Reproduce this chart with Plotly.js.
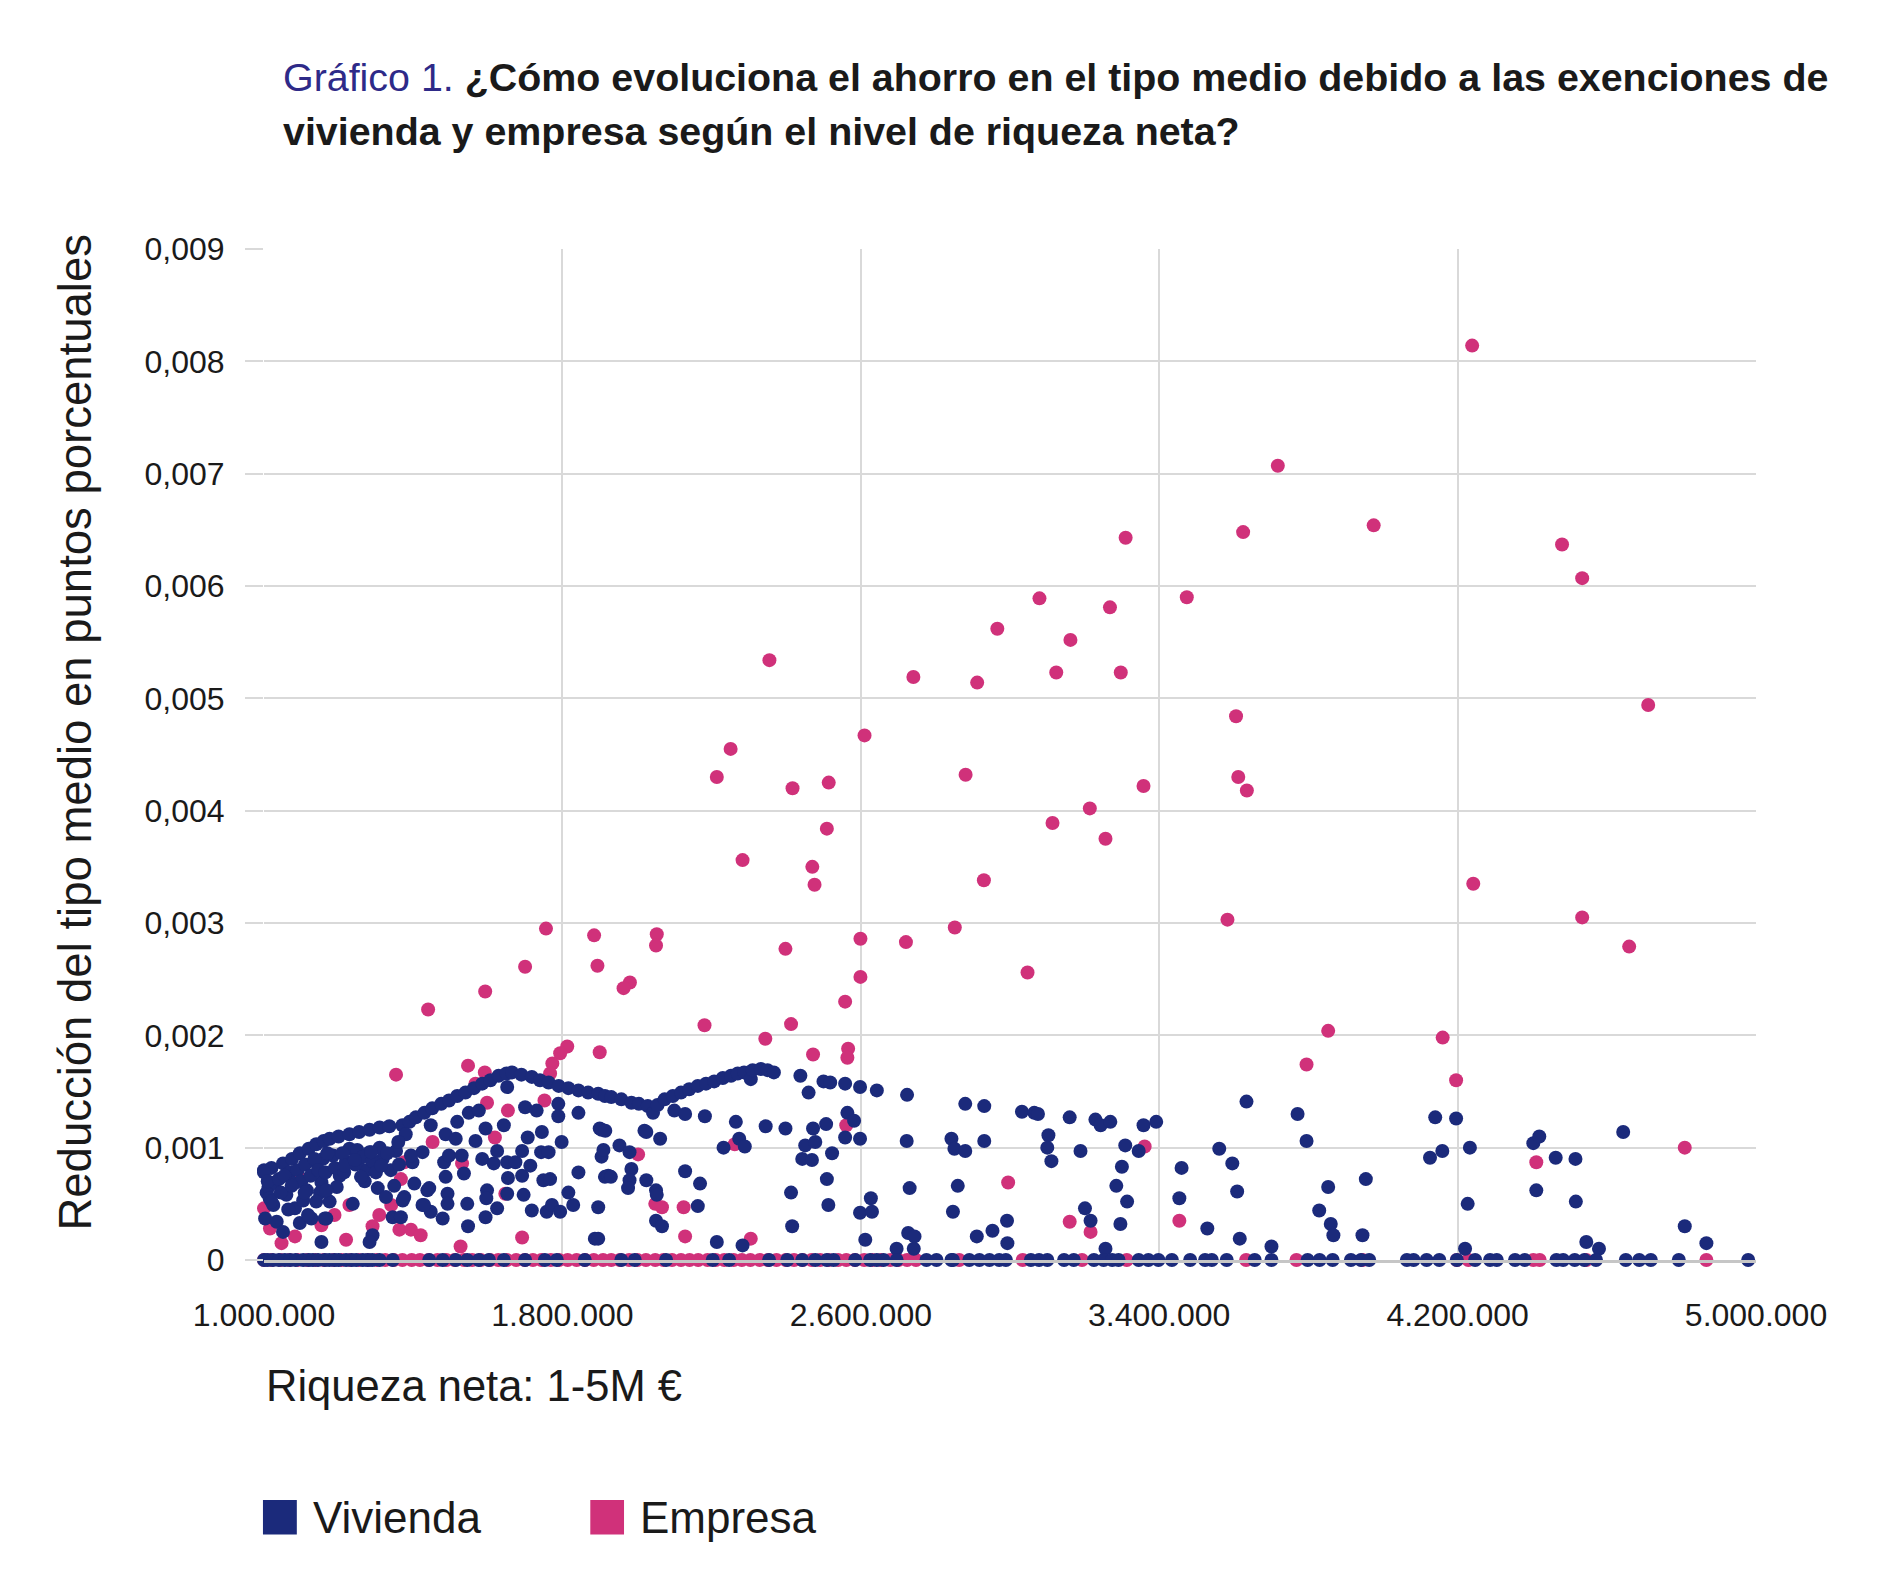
<!DOCTYPE html>
<html>
<head>
<meta charset="utf-8">
<script src="https://cdn.plot.ly/plotly-3.0.1.min.js"></script>
<style>
  body { margin: 0; background: #fff; }
  #chart { width: 1880px; height: 1596px; }
</style>
</head>
<body>
<div id="chart"></div>
<script>
// riqueza neta en miles de euros, reduccion del tipo medio en puntos porcentuales
var empresa = [
    // parte alta
    [2355,0.00534],[2741,0.00519],[2912,0.00514],[2610,0.00467],[2251,0.00455],[2214,0.0043],[2417,0.0042],
    [2514,0.00425],[2881,0.00432],[2509,0.00384],[2283,0.00356],[2470,0.0035],[2476,0.00334],[2930,0.00338],
    [1756,0.00295],[1885,0.00289],[2053,0.0029],[2051,0.0028],[2852,0.00296],[2599,0.00286],[2721,0.00283],
    [2398,0.00277],[1700,0.00261],[1894,0.00262],[2599,0.00252],[1981,0.00247],[1964,0.00242],[1593,0.00239],
    [2558,0.0023],[1440,0.00223],[2181,0.00209],[2413,0.0021],[2344,0.00197],[1813,0.0019],[1900,0.00185],
    [2566,0.00188],[2472,0.00183],
    [4239,0.00814],[3718,0.00707],[3975,0.00654],[3625,0.00648],[3310,0.00643],[4480,0.00637],[4534,0.00607],
    [3474,0.0059],[3079,0.00589],[3268,0.00581],[2966,0.00562],[3162,0.00552],[3124,0.00523],[3297,0.00523],
    [4711,0.00494],[3606,0.00484],[3358,0.00422],[3612,0.0043],[3635,0.00418],[3214,0.00402],[3114,0.00389],
    [3256,0.00375],[4242,0.00335],[4534,0.00305],[3583,0.00303],[4660,0.00279],[3047,0.00256],[3853,0.00204],
    [4160,0.00198],[3795,0.00174],[4196,0.0016],
    // zona densa
    [1794,0.00184],[1773,0.00175],[1767,0.00166],[1547,0.00173],[1592,0.00167],[1567,0.00157],[1598,0.0014],
    [1654,0.00133],[1752,0.00142],[1452,0.00105],[1619,0.00109],[1376,0.00087],[1531,0.00086],[1100,0.00072],
    [1367,0.00072],[1647,0.00059],[1229,0.00049],[1341,0.00049],[1000,0.00046],[1189,0.0004],[1309,0.0004],
    [1016,0.00028],[1154,0.00031],[1291,0.0003],[1363,0.00027],[1394,0.00027],[1420,0.00022],[1083,0.00021],
    [1220,0.00018],[1692,0.0002],[1047,0.00015],[1527,0.00012],[1354,0.00165],[2564,0.0018],[2561,0.0012],
    [2003,0.00094],[2262,0.00103],[2049,0.0005],[2067,0.00047],[2125,0.00047],[2129,0.00021],[2305,0.00019],
    [2995,0.00069],[3160,0.00034],[3216,0.00025],[3454,0.00035],[3361,0.00101],[4411,0.00087],[4809,0.001],
    // en cero
    [1000,0],[1020,0],[1045,0],[1068,0],[1090,0],[1116,0],[1138,0],[1160,0],[1186,0],[1208,0],[1231,0],
    [1255,0],[1279,0],[1302,0],[1325,0],[1348,0],[1371,0],[1396,0],[1418,0],[1441,0],[1465,0],[1489,0],
    [1511,0],[1536,0],[1558,0],[1581,0],[1606,0],[1628,0],[1651,0],[1676,0],[1699,0],[1721,0],[1744,0],
    [1769,0],[1791,0],[1814,0],[1838,0],[1861,0],[1884,0],[1909,0],[1931,0],[1954,0],[1979,0],[2001,0],
    [2024,0],[2049,0],[2071,0],[2094,0],[2118,0],[2141,0],[2164,0],[2189,0],[2211,0],[2234,0],[2259,0],
    [2281,0],[2304,0],[2329,0],[2351,0],[2374,0],[2399,0],[2421,0],[2444,0],[2468,0],[2491,0],[2514,0],
    [2539,0],[2561,0],[2584,0],[2609,0],[2631,0],[2654,0],[2679,0],[2701,0],[2724,0],[2748,0],
    [2864,0],[3034,0],[3193,0],[3313,0],[3633,0],[3768,0],[3945,0],[4198,0],[4229,0],[4403,0],[4420,0],
    [4545,0],[4867,0]
];

var vivienda = [
    // frontera superior
    [1000,0.0008],[1020,0.00082],[1051,0.00086],[1075,0.0009],[1096,0.00095],[1120,0.00099],[1140,0.00103],
    [1160,0.00106],[1176,0.00108],[1200,0.0011],[1229,0.00112],[1255,0.00114],[1283,0.00116],[1310,0.00118],
    [1336,0.00119],[1371,0.0012],[1390,0.00123],[1407,0.00127],[1430,0.00131],[1451,0.00135],[1475,0.00139],
    [1496,0.00142],[1518,0.00146],[1540,0.00149],[1563,0.00153],[1585,0.00157],[1607,0.0016],[1629,0.00164],
    [1650,0.00166],[1665,0.00167],[1690,0.00165],[1718,0.00163],[1740,0.0016],[1763,0.00158],[1790,0.00155],
    [1816,0.00153],[1843,0.00151],[1869,0.00149],[1896,0.00148],[1914,0.00146],[1931,0.00145],[1958,0.00143],
    [1985,0.0014],[2005,0.00139],[2029,0.00137],[2043,0.00131],[2055,0.00138],[2074,0.00143],[2096,0.00146],
    [2118,0.00149],[2140,0.00152],[2163,0.00155],[2185,0.00157],[2207,0.00159],[2230,0.00162],[2252,0.00164],
    [2270,0.00166],[2287,0.00167],[2305,0.00161],[2310,0.00169],[2332,0.0017],[2350,0.00169],[2367,0.00167],
    [2438,0.00164],[2460,0.00149],[2500,0.00159],[2518,0.00158],[2558,0.00157],[2598,0.00154],[2643,0.00151],
    [2724,0.00147],
    // 1,0 - 1,9 M
    [1000,0.00078],[1007,0.0006],[1012,0.00065],[1029,0.00069],[1025,0.00049],[1003,0.00037],[1034,0.00034],
    [1051,0.00025],[1060,0.00058],[1069,0.00078],[1083,0.00046],[1105,0.00053],[1096,0.00033],[1127,0.00037],
    [1140,0.00087],[1154,0.00069],[1167,0.00037],[1176,0.00052],[1158,0.0009],[1185,0.00093],[1203,0.00075],
    [1220,0.00087],[1238,0.0005],[1229,0.00099],[1256,0.0009],[1274,0.0008],[1283,0.00096],[1305,0.00064],
    [1291,0.00022],[1283,0.00016],[1154,0.00016],[1318,0.0009],[1327,0.00056],[1345,0.00038],[1367,0.00038],
    [1354,0.00097],[1380,0.00112],[1376,0.00056],[1398,0.00087],[1403,0.00068],[1425,0.00096],[1425,0.00049],
    [1447,0.00043],[1443,0.00064],[1447,0.0012],[1479,0.00037],[1487,0.00074],[1483,0.00087],[1487,0.00112],
    [1496,0.00093],[1492,0.00059],[1492,0.0005],[1518,0.00123],[1514,0.00108],[1536,0.00077],[1530,0.00093],
    [1545,0.0005],[1549,0.00131],[1547,0.0003],[1576,0.00133],[1567,0.00106],[1594,0.00117],[1585,0.0009],
    [1594,0.00038],[1598,0.00062],[1596,0.00055],[1625,0.00046],[1616,0.00086],[1625,0.00097],[1643,0.0012],
    [1652,0.00154],[1652,0.00087],[1654,0.00073],[1652,0.00059],[1674,0.00087],[1692,0.00075],[1696,0.00058],
    [1700,0.00136],[1707,0.00109],[1692,0.00097],[1714,0.00084],[1718,0.00044],[1731,0.00133],[1745,0.00114],
    [1743,0.00096],[1749,0.00071],[1758,0.00043],[1763,0.00096],[1767,0.00072],[1772,0.00049],[1789,0.00139],
    [1789,0.00128],[1798,0.00105],[1794,0.00043],[1816,0.0006],[1829,0.00049],[1843,0.00131],[1843,0.00078],
    [1887,0.00019],[1896,0.00047],[1900,0.00117],[1905,0.00092],[1914,0.00074],
    [1010,0.0007],[1015,0.00055],[1040,0.00072],[1045,0.0006],[1055,0.00075],[1065,0.00045],[1080,0.00068],
    [1090,0.0008],[1100,0.0007],[1110,0.00085],[1115,0.00062],[1125,0.00075],[1135,0.0009],[1145,0.0008],
    [1150,0.0006],[1165,0.00078],[1170,0.00095],[1190,0.00082],[1195,0.00065],[1210,0.00095],[1215,0.00078],
    [1245,0.00085],[1250,0.00098],[1265,0.00092],[1270,0.0007],[1290,0.00088],[1300,0.00078],[1310,0.001],
    [1330,0.00095],[1340,0.0008],[1360,0.00105],[1362,0.00085],[1020,0.00052],[1074,0.00066],[1109,0.0006],
    [1118,0.0004],[1140,0.00052],[1163,0.00037],[1167,0.00062],[1216,0.00084],[1243,0.00089],[1260,0.00074],
    [1287,0.00096],[1314,0.00084],[1349,0.00066],[1372,0.00053],[1394,0.00093],[1438,0.00062],[1429,0.00049],
    // 1,9 - 2,85 M
    [1905,0.00116],[1915,0.00115],[2020,0.00115],[2025,0.00114],[2062,0.00108],[2100,0.00133],[2129,0.0013],
    [2182,0.00128],[2265,0.00123],[2345,0.00119],[2398,0.00117],[2472,0.00117],[2507,0.00121],[2564,0.00131],
    [2582,0.00124],[2558,0.00109],[2598,0.00108],[2723,0.00106],[2232,0.001],[2274,0.00108],[2289,0.00101],
    [2451,0.00102],[2478,0.00105],[2443,0.0009],[2469,0.00089],[2523,0.00095],[1953,0.00102],[1980,0.00096],
    [1910,0.00098],[1923,0.00075],[1930,0.00074],[1985,0.00081],[1980,0.00071],[1976,0.00064],[2025,0.00071],
    [2051,0.00062],[2053,0.00058],[2129,0.00079],[2169,0.00068],[2163,0.00048],[2051,0.00035],[2067,0.0003],
    [2413,0.0006],[2416,0.0003],[2509,0.00072],[2513,0.00049],[2627,0.00055],[2598,0.00042],[2630,0.00043],
    [2612,0.00018],[2731,0.00064],[2727,0.00024],[2744,0.00021],[2742,0.0001],[2214,0.00016],[2283,0.00013],
    [2696,0.0001],[1896,0.00019],
    // 2,85 - 5 M
    [3701,0.00012],[3256,0.0001],[2880,0.00139],[2931,0.00137],[2843,0.00108],[2851,0.00099],[2880,0.00097],
    [2931,0.00106],[2860,0.00066],[2847,0.00043],[2911,0.00021],[2953,0.00026],[2992,0.00035],[2993,0.00015],
    [3032,0.00132],[3065,0.00131],[3075,0.0013],[3103,0.00111],[3100,0.001],[3111,0.00088],[3160,0.00127],
    [3189,0.00097],[3201,0.00046],[3216,0.00035],[3229,0.00125],[3243,0.0012],[3269,0.00123],[3309,0.00102],
    [3300,0.00083],[3285,0.00066],[3314,0.00052],[3296,0.00032],[3345,0.00097],[3358,0.0012],[3392,0.00123],
    [3460,0.00082],[3454,0.00055],[3529,0.00028],[3561,0.00099],[3596,0.00086],[3609,0.00061],[3616,0.00019],
    [3634,0.00141],[3771,0.0013],[3795,0.00106],[3853,0.00065],[3829,0.00044],[3860,0.00032],[3867,0.00022],
    [3945,0.00022],[3954,0.00072],[4220,0.0001],[4140,0.00127],[4196,0.00126],[4126,0.00091],[4159,0.00097],
    [4233,0.001],[4227,0.0005],[4403,0.00104],[4419,0.0011],[4463,0.00091],[4516,0.0009],[4411,0.00062],
    [4517,0.00052],[4545,0.00016],[4579,0.0001],[4644,0.00114],[4809,0.0003],[4867,0.00015],
    // en cero
    [1000,0],[1010,0],[1024,0],[1040,0],[1056,0],[1070,0],[1085,0],[1105,0],[1120,0],[1131,0],[1145,0],
    [1163,0],[1175,0],[1189,0],[1200,0],[1220,0],[1235,0],[1247,0],[1265,0],[1278,0],[1290,0],[1310,0],
    [1345,0],[1443,0],[1479,0],[1514,0],[1545,0],[1576,0],[1603,0],[1643,0],[1700,0],[1753,0],[1785,0],
    [1860,0],[1958,0],[1994,0],[2078,0],[2203,0],[2247,0],[2354,0],[2403,0],[2443,0],[2478,0],[2509,0],
    [2527,0],[2585,0],[2625,0],[2643,0],[2661,0],[2696,0],[2776,0],[2803,0],[2843,0],[2847,0],[2891,0],
    [2918,0],[2945,0],[2971,0],[2989,0],[3056,0],[3078,0],[3100,0],[3145,0],[3171,0],[3225,0],[3251,0],
    [3274,0],[3291,0],[3345,0],[3371,0],[3398,0],[3434,0],[3483,0],[3523,0],[3541,0],[3581,0],[3656,0],
    [3701,0],[3798,0],[3830,0],[3865,0],[3914,0],[3941,0],[3963,0],[4064,0],[4082,0],[4117,0],[4151,0],
    [4198,0],[4247,0],[4287,0],[4305,0],[4354,0],[4380,0],[4465,0],[4483,0],[4514,0],[4540,0],[4571,0],
    [4651,0],[4687,0],[4718,0],[4793,0],[4979,0]
];

var xTickVals = [1000, 1800, 2600, 3400, 4200, 5000];
var xTickText = ['1.000.000', '1.800.000', '2.600.000', '3.400.000', '4.200.000', '5.000.000'];
var yTickVals = [0, 0.001, 0.002, 0.003, 0.004, 0.005, 0.006, 0.007, 0.008, 0.009];
var yTickText = ['0', '0,001', '0,002', '0,003', '0,004', '0,005', '0,006', '0,007', '0,008', '0,009'];

var seriesNames = ['Vivienda', 'Empresa'];
var navy = '#1b2a7b';
var pink = '#d0317a';
var font = '"Liberation Sans", Arial, sans-serif';

function makeTrace(points, name, color)
{
    return {
        type: 'scatter',
        mode: 'markers',
        name: name,
        x: points.map(function (p) { return p[0]; }),
        y: points.map(function (p) { return p[1]; }),
        marker: { color: color, size: 14 },
        cliponaxis: false,
        showlegend: false
    };
}

// empresa first so vivienda sits on top
var data = [
    makeTrace(empresa, seriesNames[1], pink),
    makeTrace(vivienda, seriesNames[0], navy)
];

var layout = {
    width: 1880,
    height: 1596,
    margin: { l: 264, r: 124, t: 249, b: 336 },
    paper_bgcolor: '#fff',
    plot_bgcolor: '#fff',
    font: { family: font, color: '#1a1a1a' },
    xaxis: {
        range: [1000, 5000],
        tickvals: xTickVals,
        ticktext: xTickText,
        tickfont: { size: 32, color: '#1a1a1a' },
        ticks: '',
        ticklabelstandoff: 25,
        showgrid: true,
        gridcolor: '#d9d9d9',
        gridwidth: 2,
        zeroline: false,
        showline: true,
        linecolor: '#c6c6c6',
        linewidth: 3
    },
    yaxis: {
        range: [0, 0.009],
        tickvals: yTickVals,
        ticktext: yTickText,
        tickfont: { size: 32, color: '#1a1a1a' },
        ticks: 'outside',
        ticklen: 18,
        tickwidth: 2,
        tickcolor: '#d9d9d9',
        ticklabelstandoff: 14,
        showgrid: true,
        gridcolor: '#d9d9d9',
        gridwidth: 2,
        zeroline: false,
        showline: false
    },
    annotations: [
        {
            xref: 'paper', yref: 'paper', x: 0.0117, y: 1.1705,
            xanchor: 'left', yanchor: 'middle', showarrow: false,
            text: '<span style="color:#2e2a88">Gráfico 1.</span> <b>¿Cómo evoluciona el ahorro en el tipo medio debido a las exenciones de</b>',
            font: { size: 39.4, color: '#1a1a1a', family: font }
        },
        {
            xref: 'paper', yref: 'paper', x: 0.0117, y: 1.1165,
            xanchor: 'left', yanchor: 'middle', showarrow: false,
            text: '<b>vivienda y empresa según el nivel de riqueza neta?</b>',
            font: { size: 39.4, color: '#1a1a1a', family: font }
        },
        {
            xref: 'paper', yref: 'paper', x: -0.126, y: 0.5217,
            xanchor: 'center', yanchor: 'middle', showarrow: false, textangle: -90,
            text: 'Reducción del tipo medio en puntos porcentuales',
            font: { size: 45.5, color: '#1a1a1a', family: font }
        },
        {
            xref: 'paper', yref: 'paper', x: 0.0, y: -0.125,
            xanchor: 'left', yanchor: 'middle', showarrow: false,
            text: 'Riqueza neta: 1-5M €',
            font: { size: 43.5, color: '#1a1a1a', family: font }
        },
        {
            xref: 'paper', yref: 'paper', x: 0.0318, y: -0.255,
            xanchor: 'left', yanchor: 'middle', showarrow: false,
            text: seriesNames[0],
            font: { size: 44, color: '#1a1a1a', family: font }
        },
        {
            xref: 'paper', yref: 'paper', x: 0.251, y: -0.255,
            xanchor: 'left', yanchor: 'middle', showarrow: false,
            text: seriesNames[1],
            font: { size: 44, color: '#1a1a1a', family: font }
        }
    ],
    shapes: [
        { type: 'rect', xref: 'paper', yref: 'paper', x0: -0.0007, x1: 0.022, y0: -0.2715, y1: -0.2375,
          fillcolor: navy, line: { width: 0 } },
        { type: 'rect', xref: 'paper', yref: 'paper', x0: 0.2187, x1: 0.2413, y0: -0.2715, y1: -0.2375,
          fillcolor: pink, line: { width: 0 } }
    ]
};

Plotly.newPlot('chart', data, layout, { displayModeBar: false, staticPlot: true });
</script>
</body>
</html>
